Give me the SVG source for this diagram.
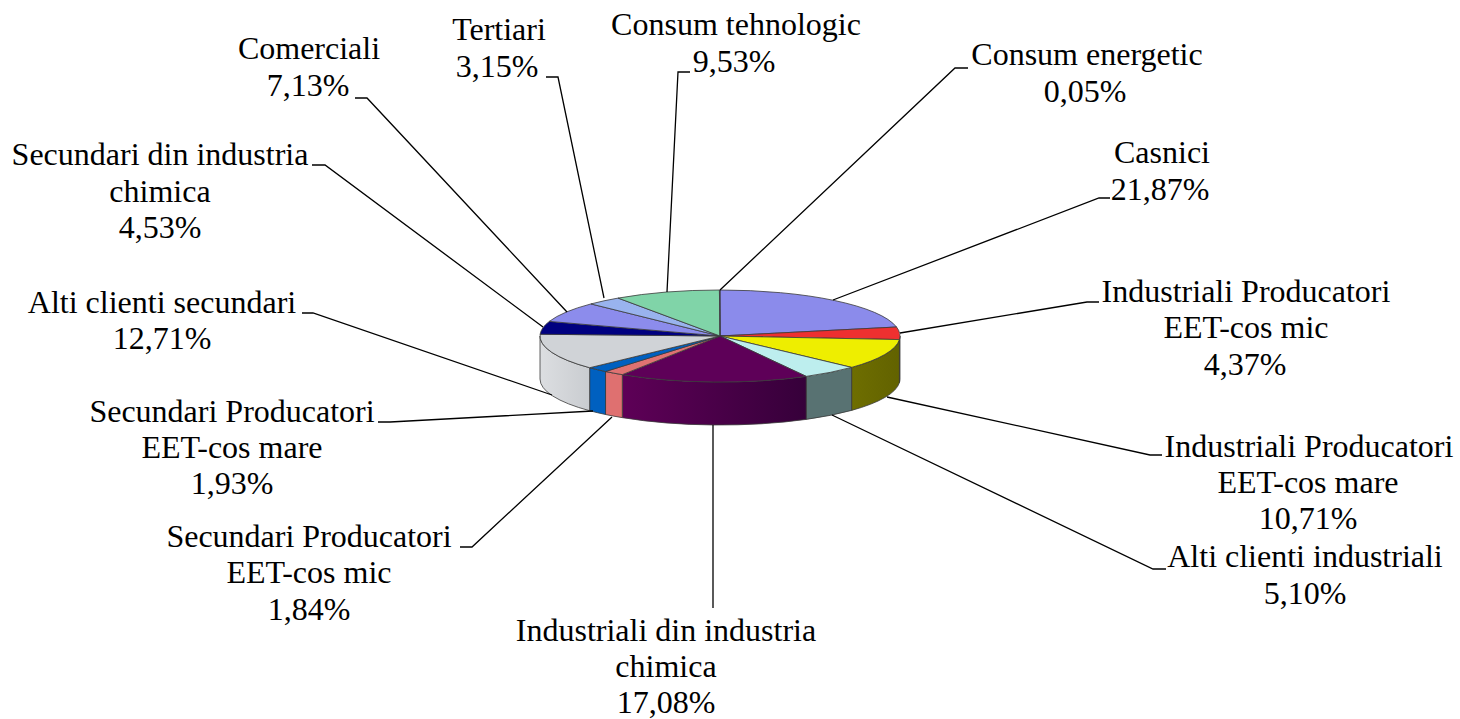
<svg xmlns="http://www.w3.org/2000/svg" width="1460" height="719" viewBox="0 0 1460 719" font-family="'Liberation Serif', 'Times New Roman', Times, 'DejaVu Serif', serif">
<defs>
<style>
text{font-family:'Liberation Serif','Times New Roman',Times,'DejaVu Serif',serif;font-size:32px;fill:#000;text-anchor:middle}
.s{stroke:#3a3a3a;stroke-width:0.8;stroke-linejoin:round}
.l{fill:none;stroke:#000;stroke-width:1.3}
</style>
<linearGradient id="gP" gradientUnits="userSpaceOnUse" x1="622" y1="0" x2="806" y2="0">
<stop offset="0" stop-color="#5E0057"/><stop offset="1" stop-color="#36003A"/>
</linearGradient>
<linearGradient id="gG" gradientUnits="userSpaceOnUse" x1="540" y1="0" x2="590" y2="0">
<stop offset="0" stop-color="#DCDEE1"/><stop offset="1" stop-color="#C9CCD0"/>
</linearGradient>
<linearGradient id="gY" gradientUnits="userSpaceOnUse" x1="852" y1="0" x2="900" y2="0">
<stop offset="0" stop-color="#6E6E00"/><stop offset="1" stop-color="#626200"/>
</linearGradient>
</defs>
<rect width="1460" height="719" fill="#fff"/>
<g id="pie">
<g id="sides">
<path class="s" fill="#C02020" d="M900 336 A180 46 0 0 1 899.45 339.58 L899.45 382.58 A180 46 0 0 0 900 379 Z"/>
<path class="s" fill="url(#gY)" d="M899.45 339.58 A180 46 0 0 1 851.61 367.38 L851.61 410.38 A180 46 0 0 0 899.45 382.58 Z"/>
<path class="s" fill="#587272" d="M851.61 367.38 A180 46 0 0 1 806.22 376.38 L806.22 419.38 A180 46 0 0 0 851.61 410.38 Z"/>
<path class="s" fill="url(#gP)" d="M806.22 376.38 A180 46 0 0 1 622.32 374.64 L622.32 417.64 A180 46 0 0 0 806.22 419.38 Z"/>
<path class="s" fill="#DF7070" d="M622.32 374.64 A180 46 0 0 1 605.53 371.5 L605.53 414.5 A180 46 0 0 0 622.32 417.64 Z"/>
<path class="s" fill="#0060C0" d="M605.53 371.5 A180 46 0 0 1 589.65 367.72 L589.65 410.72 A180 46 0 0 0 605.53 414.5 Z"/>
<path class="s" fill="url(#gG)" d="M589.65 367.72 A180 46 0 0 1 540 336 L540 379 A180 46 0 0 0 589.65 410.72 Z"/>
</g>
<g id="tops">
<path id="casnici" class="s" fill="#8B8BEB" d="M720 336 L720 290 A180 46 0 0 1 896.53 327.01 Z"/>
<path id="ind-prod-mic" class="s" fill="#EE3030" d="M720 336 L896.53 327.01 A180 46 0 0 1 899.45 339.58 Z"/>
<path id="ind-prod-mare" class="s" fill="#EEEE00" d="M720 336 L899.45 339.58 A180 46 0 0 1 851.61 367.38 Z"/>
<path id="alti-ind" class="s" fill="#BDEEEE" d="M720 336 L851.61 367.38 A180 46 0 0 1 806.22 376.38 Z"/>
<path id="ind-chimica" class="s" fill="#5E0058" d="M720 336 L806.22 376.38 A180 46 0 0 1 622.32 374.64 Z"/>
<path id="sec-prod-mic" class="s" fill="#E07272" d="M720 336 L622.32 374.64 A180 46 0 0 1 605.53 371.5 Z"/>
<path id="sec-prod-mare" class="s" fill="#0060C0" d="M720 336 L605.53 371.5 A180 46 0 0 1 589.65 367.72 Z"/>
<path id="alti-sec" class="s" fill="#D0D3D7" d="M720 336 L589.65 367.72 A180 46 0 0 1 540.13 334.24 Z"/>
<path id="sec-chimica" class="s" fill="#000080" d="M720 336 L540.13 334.24 A180 46 0 0 1 549.31 321.4 Z"/>
<path id="comerciali" class="s" fill="#8C8CEC" d="M720 336 L549.31 321.4 A180 46 0 0 1 590.95 303.93 Z"/>
<path id="tertiari" class="s" fill="#99B3EE" d="M720 336 L590.95 303.93 A180 46 0 0 1 618.08 298.08 Z"/>
<path id="tehnologic" class="s" fill="#80D4A8" d="M720 336 L618.08 298.08 A180 46 0 0 1 719.43 290 Z"/>
<path id="energetic" class="s" fill="#CC99FF" d="M720 336 L719.43 290 A180 46 0 0 1 720 290 Z"/>
</g>
</g>
<g id="connectors">
<polyline class="l" points="720,290 955,68 968,68"/>
<polyline class="l" points="833,300 1099,198 1110,198"/>
<polyline class="l" points="900,333 1087,302 1099,302"/>
<polyline class="l" points="887,397 1150,455 1162,455"/>
<polyline class="l" points="832,415 1153,569 1166,569"/>
<polyline class="l" points="713,425 713,608"/>
<polyline class="l" points="612,417 472,547 460,547"/>
<polyline class="l" points="593,411 390,422 378,422"/>
<polyline class="l" points="552,395 313,313 302,313"/>
<polyline class="l" points="543,327 325,165 312,165"/>
<polyline class="l" points="567,312 367,98 355,98"/>
<polyline class="l" points="604,298 558,77 546,77"/>
<polyline class="l" points="667,292 678,72 690,72"/>
</g>
<g id="label-energetic"><text x="1087" y="65">Consum energetic</text><text x="1085" y="102">0,05%</text></g>
<g id="label-casnici"><text x="1162" y="163">Casnici</text><text x="1160" y="200">21,87%</text></g>
<g id="label-ind-prod-mic"><text x="1246" y="302">Industriali Producatori</text><text x="1246" y="338">EET-cos mic</text><text x="1245" y="375">4,37%</text></g>
<g id="label-ind-prod-mare"><text x="1309" y="457">Industriali Producatori</text><text x="1308" y="493">EET-cos mare</text><text x="1308" y="529">10,71%</text></g>
<g id="label-alti-ind"><text x="1305" y="567">Alti clienti industriali</text><text x="1305" y="604">5,10%</text></g>
<g id="label-ind-chimica"><text x="666" y="641">Industriali din industria</text><text x="666" y="677">chimica</text><text x="666" y="713">17,08%</text></g>
<g id="label-sec-prod-mic"><text x="309" y="547">Secundari Producatori</text><text x="309" y="583">EET-cos mic</text><text x="309" y="620">1,84%</text></g>
<g id="label-sec-prod-mare"><text x="232" y="422">Secundari Producatori</text><text x="232" y="458">EET-cos mare</text><text x="232" y="494">1,93%</text></g>
<g id="label-alti-sec"><text x="162" y="313">Alti clienti secundari</text><text x="162" y="349">12,71%</text></g>
<g id="label-sec-chimica"><text x="160" y="165">Secundari din industria</text><text x="160" y="202">chimica</text><text x="160" y="238">4,53%</text></g>
<g id="label-comerciali"><text x="309" y="59">Comerciali</text><text x="308" y="96">7,13%</text></g>
<g id="label-tertiari"><text x="499" y="40">Tertiari</text><text x="497" y="77">3,15%</text></g>
<g id="label-tehnologic"><text x="736" y="35">Consum tehnologic</text><text x="734" y="72">9,53%</text></g>
</svg>
